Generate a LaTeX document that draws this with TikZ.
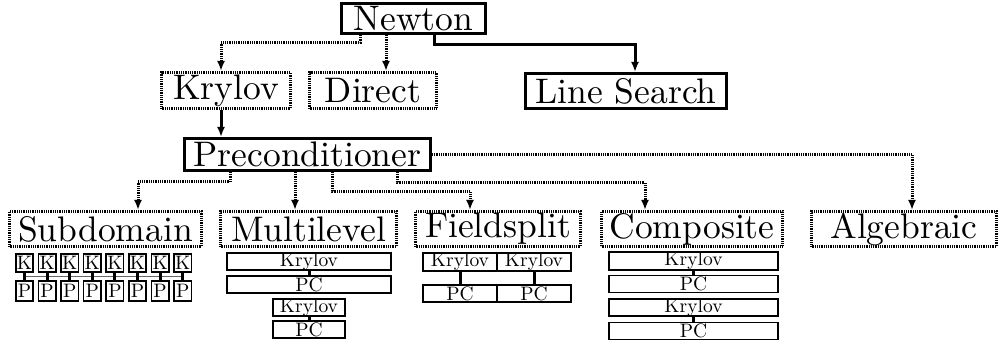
\documentclass[tikz,border=0pt]{standalone}
\usetikzlibrary{arrows.meta,calc}
\newcommand\BigLbl[1]{\scalebox{3.55}{#1}}
\newcommand\SmallLbl[1]{\scalebox{1.95}{#1}}
\begin{document}
\begin{tikzpicture}[x=1pt,y=-1pt,
  bigbox/.style={draw, line width=3pt, inner sep=0pt},
  dotbox/.style={bigbox, dash pattern=on 0.9pt off 0.9pt},
  smallbox/.style={draw, line width=1.6pt, inner sep=0pt},
  solidarrow/.style={line width=3pt, -{Latex[length=10pt,width=8pt]}},
  dotarrow/.style={solidarrow, dash pattern=on 0.9pt off 0.9pt},
  stubline/.style={line width=3pt},
  hline/.style={line width=1pt, black!60}]
\useasboundingbox (0,0) rectangle (1000,347);

% main nodes
\node[bigbox, minimum width=144pt, minimum height=30pt] (newton) at (413.5,18.5) {\BigLbl{Newton}};
\node[dotbox, minimum width=129pt, minimum height=36pt] (krylov) at (226,90.5) {\BigLbl{Krylov}};
\node[dotbox, minimum width=127pt, minimum height=36pt] (direct) at (373,90.5) {\BigLbl{Direct}};
\node[bigbox, minimum width=201pt, minimum height=35pt] (ls) at (626,91) {\BigLbl{Line Search}};
\node[bigbox, minimum width=246pt, minimum height=32pt] (precon) at (307.5,154.5) {\BigLbl{Preconditioner}};
\node[dotbox, minimum width=192pt, minimum height=35pt] (sub) at (105.5,229) {\BigLbl{Subdomain}};
\node[dotbox, minimum width=176pt, minimum height=35pt] (multi) at (308.5,229) {\BigLbl{Multilevel}};
\node[dotbox, minimum width=165pt, minimum height=35pt] (field) at (498,229) {\BigLbl{Fieldsplit}};
\node[dotbox, minimum width=181pt, minimum height=35pt] (comp) at (692,229) {\BigLbl{Composite}};
\node[dotbox, minimum width=185pt, minimum height=35pt] (alg) at (904,229) {\BigLbl{Algebraic}};

% connectors from Newton
\draw[dotarrow] ([xshift=-53.5pt]newton.south) -- ++(0,8) -| ([xshift=-5pt]krylov.north);
\draw[dotarrow] ([xshift=-27.5pt]newton.south) -- ([xshift=-27.5pt]newton.south |- direct.north);
\draw[solidarrow] ([xshift=20.5pt]newton.south) -- ++(0,10) -| ([xshift=9pt]ls.north);
\draw[solidarrow] ([xshift=-5pt]krylov.south) -- ([xshift=-5pt]krylov.south |- precon.north);

% connectors from Preconditioner
\draw[dotarrow] ([xshift=-77.5pt]precon.south) -- ++(0,10) -| ([xshift=32.5pt]sub.north);
\draw[dotarrow] ([xshift=-12.5pt]precon.south) -- ([xshift=-12.5pt]precon.south |- multi.north);
\draw[dotarrow] ([xshift=24.5pt]precon.south) -- ++(0,20) -| ([xshift=-28pt]field.north);
\draw[dotarrow] ([xshift=89.5pt]precon.south) -- ++(0,11) -| ([xshift=-47pt]comp.north);
\draw[dotarrow] (precon.east) -| ([xshift=8pt]alg.north);

% Subdomain K/P blocks
\foreach \i in {0,...,7} {
  \node[smallbox, minimum width=17.5pt, minimum height=18.5pt] (k\i) at ({24.5+22.6*\i},263) {\SmallLbl{K}};
  \node[smallbox, minimum width=17.5pt, minimum height=20pt] (p\i) at ({24.5+22.6*\i},291) {\SmallLbl{P}};
}
\draw[hline] ($(k0.south)!0.5!(p0.north)$) -- ($(k7.south)!0.5!(p7.north)$);
\foreach \i in {0,...,7} {
  \draw[stubline] (k\i.south) -- (p\i.north);
}

% Multilevel
\node[smallbox, minimum width=164pt, minimum height=17.5pt] (mk1) at (309,261.5) {\SmallLbl{Krylov}};
\node[smallbox, minimum width=164pt, minimum height=17.5pt] (mp1) at (309,284.5) {\SmallLbl{PC}};
\node[smallbox, minimum width=72pt, minimum height=17.5pt] (mk2) at (309,307.5) {\SmallLbl{Krylov}};
\node[smallbox, minimum width=72pt, minimum height=17.5pt] (mp2) at (309,329.5) {\SmallLbl{PC}};
\draw[stubline] (mk1.south) -- (mp1.north);
\draw[stubline] (mk2.south) -- (mp2.north);

% Fieldsplit
\node[smallbox, minimum width=74pt, minimum height=17pt] (fk1) at (460,262) {\SmallLbl{Krylov}};
\node[smallbox, minimum width=74pt, minimum height=17pt] (fk2) at (534,262) {\SmallLbl{Krylov}};
\node[smallbox, minimum width=74pt, minimum height=17pt] (fp1) at (460,293.5) {\SmallLbl{PC}};
\node[smallbox, minimum width=74pt, minimum height=17pt] (fp2) at (534,293.5) {\SmallLbl{PC}};
\draw[stubline] (fk1.south) -- (fp1.north);
\draw[stubline] (fk2.south) -- (fp2.north);

% Composite
\node[smallbox, minimum width=169pt, minimum height=17pt] (ck1) at (693.5,261) {\SmallLbl{Krylov}};
\node[smallbox, minimum width=169pt, minimum height=17pt] (cp1) at (693.5,284) {\SmallLbl{PC}};
\node[smallbox, minimum width=169pt, minimum height=17pt] (ck2) at (693.5,307.5) {\SmallLbl{Krylov}};
\node[smallbox, minimum width=169pt, minimum height=17pt] (cp2) at (693.5,331) {\SmallLbl{PC}};
\draw[stubline] (ck1.south) -- (cp1.north);
\draw[stubline] (ck2.south) -- (cp2.north);
\end{tikzpicture}
\end{document}
